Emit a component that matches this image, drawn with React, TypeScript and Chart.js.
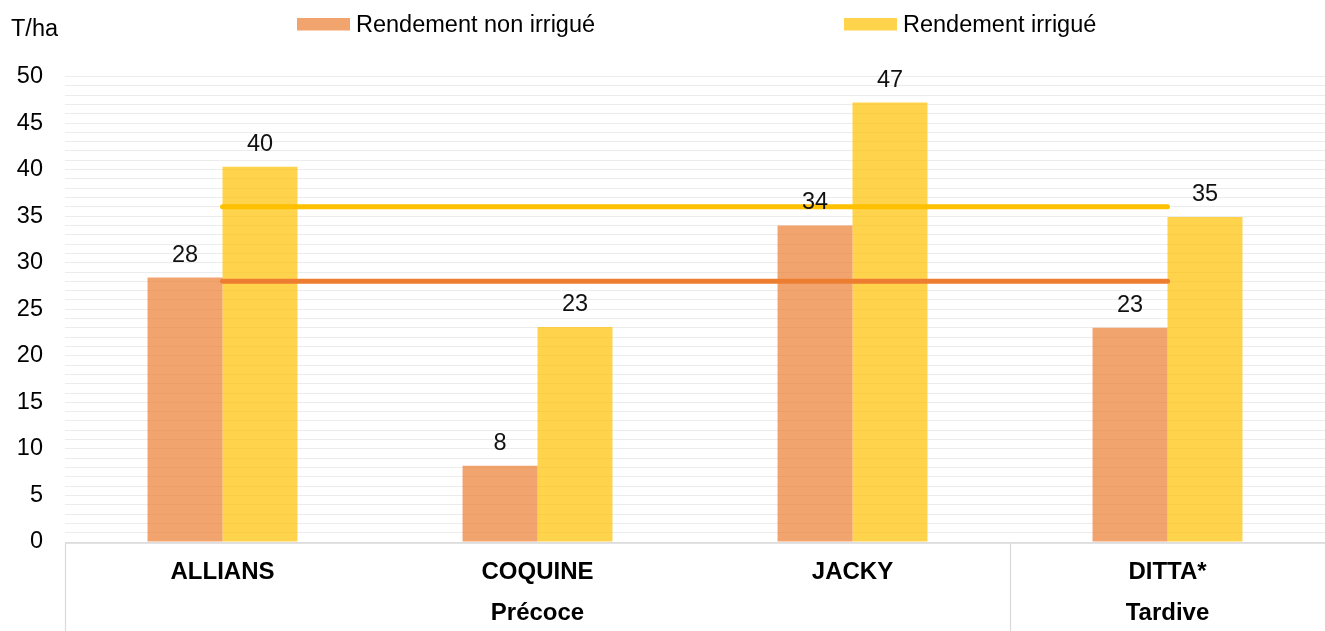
import React, { useEffect, useRef } from 'react';
import { Chart, registerables } from 'chart.js';

Chart.register(...registerables);

const categories = ['ALLIANS', 'COQUINE', 'JACKY', 'DITTA*'];
const groupLabels = ['Précoce', 'Tardive'];
const groupSpans = [3, 1];
const seriesNames = ['Rendement non irrigué', 'Rendement irrigué'];
const nonIrrigated = [28.4, 8.2, 34.0, 23.0];
const irrigated = [40.3, 23.1, 47.2, 34.9];
const nonIrrigatedMean = [28, 28, 28, 28];
const irrigatedMean = [36, 36, 36, 36];
const yAxisTitle = 'T/ha';

const FONT = '"Liberation Sans", Arial, sans-serif';
const ORANGE_BAR = 'rgba(237,125,49,0.7)';
const YELLOW_BAR = 'rgba(255,192,0,0.7)';
const ORANGE_LINE = '#ED7D31';
const YELLOW_LINE = '#FFC000';

const customPlugin = {
  id: 'customDraw',
  afterDraw(chart: any) {
    const ctx: CanvasRenderingContext2D = chart.ctx;
    const { left, right, bottom } = chart.chartArea;
    const xs = chart.scales.x;
    ctx.save();

    // axis box lines
    ctx.strokeStyle = '#d9d9d9';
    ctx.lineWidth = 1.5;
    ctx.beginPath();
    ctx.moveTo(left, bottom + 1);
    ctx.lineTo(right, bottom + 1);
    ctx.stroke();
    ctx.lineWidth = 1.2;
    const edges: number[] = [left];
    let idx = 0;
    groupSpans.forEach((s) => {
      idx += s;
      if (idx < categories.length) {
        edges.push((xs.getPixelForValue(idx - 1) + xs.getPixelForValue(idx)) / 2);
      } else {
        edges.push(right);
      }
    });
    for (let i = 0; i < edges.length - 1; i++) {
      ctx.beginPath();
      ctx.moveTo(Math.round(edges[i]) + 0.5, bottom + 1);
      ctx.lineTo(Math.round(edges[i]) + 0.5, chart.height);
      ctx.stroke();
    }

    // category labels
    ctx.fillStyle = '#000';
    ctx.textAlign = 'center';
    ctx.textBaseline = 'alphabetic';
    ctx.font = `bold 24px ${FONT}`;
    categories.forEach((c, i) => {
      ctx.fillText(c, xs.getPixelForValue(i), bottom + 37);
    });
    groupLabels.forEach((g, i) => {
      ctx.fillText(g, (edges[i] + edges[i + 1]) / 2, bottom + 78);
    });

    // data labels
    ctx.font = `23.5px ${FONT}`;
    ctx.fillStyle = '#111';
    [0, 1].forEach((di) => {
      const meta = chart.getDatasetMeta(di);
      const vals = chart.data.datasets[di].data as number[];
      meta.data.forEach((el: any, i: number) => {
        ctx.fillText(String(Math.round(vals[i])), el.x, el.y - 16);
      });
    });

    // y axis title
    ctx.textAlign = 'left';
    ctx.fillStyle = '#000';
    ctx.fillText(yAxisTitle, 11, 36);

    // legend
    const legendItems = [
      { x: 297, color: ORANGE_BAR, text: seriesNames[0] },
      { x: 844, color: YELLOW_BAR, text: seriesNames[1] },
    ];
    legendItems.forEach((it) => {
      ctx.fillStyle = it.color;
      ctx.fillRect(it.x, 18, 53, 12.5);
      ctx.fillStyle = '#000';
      ctx.fillText(it.text, it.x + 59, 32);
    });

    ctx.restore();
  },
};

export default function App() {
  const ref = useRef<HTMLCanvasElement>(null);
  useEffect(() => {
    if (!ref.current) return;
    const chart = new Chart(ref.current, {
      type: 'bar',
      data: {
        labels: categories,
        datasets: [
          {
            type: 'bar',
            label: seriesNames[0],
            data: nonIrrigated,
            backgroundColor: ORANGE_BAR,
            categoryPercentage: 0.476,
            barPercentage: 1,
            order: 2,
          },
          {
            type: 'bar',
            label: seriesNames[1],
            data: irrigated,
            backgroundColor: YELLOW_BAR,
            categoryPercentage: 0.476,
            barPercentage: 1,
            order: 2,
          },
          {
            type: 'line',
            label: 'Moyenne non irrigué',
            data: nonIrrigatedMean,
            borderColor: ORANGE_LINE,
            borderWidth: 5,
            borderCapStyle: 'round',
            pointRadius: 0,
            fill: false,
            order: 1,
          },
          {
            type: 'line',
            label: 'Moyenne irrigué',
            data: irrigatedMean,
            borderColor: YELLOW_LINE,
            borderWidth: 5,
            borderCapStyle: 'round',
            pointRadius: 0,
            fill: false,
            order: 1,
          },
        ] as any,
      },
      options: {
        responsive: false,
        animation: false,
        layout: { padding: { top: 76.5, bottom: 89, left: 0, right: 0 } },
        plugins: {
          legend: { display: false },
          tooltip: { enabled: false },
        },
        scales: {
          x: { display: false },
          y: {
            min: 0,
            max: 50,
            border: { display: false },
            grid: { color: '#ececec', lineWidth: 1, drawTicks: false },
            ticks: {
              stepSize: 1,
              autoSkip: false,
              padding: 22,
              color: '#000',
              font: { family: FONT, size: 23.5 },
              callback: (v: any) => (Number(v) % 5 === 0 ? String(v) : ''),
            },
            afterFit: (scale: any) => {
              scale.width = 65;
            },
          },
        },
      },
      plugins: [customPlugin],
    });
    return () => chart.destroy();
  }, []);
  return (
    <div style={{ position: 'fixed', left: 0, top: 0, width: 1325, height: 631, background: '#fff' }}>
      <canvas ref={ref} width={1325} height={631} style={{ display: 'block' }} />
    </div>
  );
}
